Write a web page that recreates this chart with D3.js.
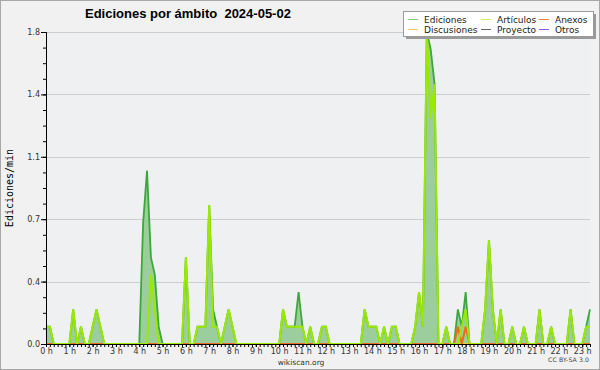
<!DOCTYPE html>
<html><head><meta charset="utf-8">
<script src="https://cdn.jsdelivr.net/npm/d3@7"></script>
<style>body{margin:0;background:#fff}svg{display:block}</style>
</head><body>
<svg id="c" width="600" height="370"></svg>
<script>
// ---- data (10-minute steps, 0:00 .. 23:20), edits per minute ----
const title = "Ediciones por ámbito  2024-05-02";
const yLabel = "Ediciones/min";
const hourLabels = d3.range(24).map(h => h + " h");
const yTickValues = [0, 0.36, 0.72, 1.08, 1.44, 1.8];
const seriesNames = ["Ediciones", "Artículos", "Anexos", "Discusiones", "Proyecto", "Otros"];
const seriesColors = ["#3aa83a", "#9be800", "#ee6a22", "#f0c830", "#555555", "#9a3fe8"];
const legendColors = ["#80cc80", "#c8f060", "#ee8050", "#f0d060", "#666666", "#9a55ee"];

const ediciones = [
  0.1,0.1,0,0,0,0,   0,0.2,0,0.1,0,0,   0.1,0.2,0.1,0,0,0,   0,0,0,0,0,0,
  0,0.7,1.0,0.5,0.4,0.1,   0,0,0,0,0,0,   0.5,0,0,0.1,0.1,0.1,   0.8,0.2,0.1,0,0.1,0.2,
  0.1,0,0,0,0,0,   0,0,0,0,0,0,   0,0.2,0.1,0.1,0.1,0.3,   0.1,0,0.1,0,0,0.1,
  0.1,0,0,0,0,0,   0,0,0,0,0.2,0.1,   0.1,0.1,0,0.1,0,0.1,   0.1,0,0,0,0,0.1,
  0.3,0.1,1.8,1.7,1.5,0,   0,0.1,0,0,0.2,0.1,   0.3,0,0,0,0,0.2,   0.6,0.2,0,0.2,0,0,
  0.1,0,0,0.1,0,0,   0,0.2,0,0,0.1,0,   0,0,0,0.2,0,0,   0,0.1,0.2
];
const articulos = [
  0.1,0.1,0,0,0,0,   0,0.2,0,0.1,0,0,   0.1,0.2,0.1,0,0,0,   0,0,0,0,0,0,
  0,0,0,0.4,0.2,0,   0,0,0,0,0,0,   0.5,0,0,0.1,0.1,0.1,   0.8,0.1,0.1,0,0.1,0.2,
  0.1,0,0,0,0,0,   0,0,0,0,0,0,   0,0.2,0.1,0.1,0.1,0.1,   0.1,0,0.1,0,0,0.1,
  0.1,0,0,0,0,0,   0,0,0,0,0.2,0.1,   0.1,0.1,0,0.1,0,0.1,   0.1,0,0,0,0,0.1,
  0.3,0.1,1.8,1.3,1.5,0,   0,0.1,0,0,0,0.1,   0.2,0,0,0,0,0.2,   0.6,0.2,0,0.2,0,0,
  0.1,0,0,0.1,0,0,   0,0.2,0,0,0.1,0,   0,0,0,0.2,0,0,   0,0.1,0.1
];
const anexos = [
  0,0,0,0,0,0,   0,0,0,0,0,0,   0,0,0,0,0,0,   0,0,0,0,0,0,
  0,0,0,0,0,0,   0,0,0,0,0,0,   0,0,0,0,0,0,   0,0,0,0,0,0,
  0,0,0,0,0,0,   0,0,0,0,0,0,   0,0,0,0,0,0,   0,0,0,0,0,0,
  0,0,0,0,0,0,   0,0,0,0,0,0,   0,0,0,0,0,0,   0,0,0,0,0,0,
  0,0,0,0,0,0,   0,0,0,0,0.1,0,   0.1,0,0,0,0,0,   0,0,0,0,0,0,
  0,0,0,0,0,0,   0,0,0,0,0,0,   0,0,0,0,0,0,   0,0,0
];
const discusiones = ediciones.map(() => 0);
const proyecto = ediciones.map(() => 0);
const otros = ediciones.map(() => 0);
const seriesValues = [ediciones, articulos, anexos, discusiones, proyecto, otros];

// ---- chart ----
const svg = d3.select("#c");
const W = 600, H = 370;
const m = {left: 46, right: 590, top: 32, bottom: 344};
const n = ediciones.length;

svg.append("rect").attr("width", W).attr("height", H).attr("fill", "#f1f1f1");
svg.append("rect").attr("x", 0.5).attr("y", 0.5).attr("width", W - 1).attr("height", H - 1)
  .attr("fill", "none").attr("stroke", "#a8a8a8");

const x = d3.scaleLinear().domain([0, n - 1]).range([m.left, m.right]);
const y = d3.scaleLinear().domain([0, 1.8]).range([m.bottom, m.top]);

svg.append("rect").attr("x", m.left).attr("y", m.top)
  .attr("width", m.right - m.left).attr("height", m.bottom - m.top).attr("fill", "#eef0f2");

// grid
svg.append("g").selectAll("line").data(yTickValues.filter(d => d > 0)).join("line")
  .attr("x1", m.left).attr("x2", m.right)
  .attr("y1", d => Math.round(y(d)) + 0.5).attr("y2", d => Math.round(y(d)) + 0.5)
  .attr("stroke", "#cdcdcf").attr("stroke-width", 1);

// area
const idx = d3.range(n);
svg.append("path").datum(idx)
  .attr("d", d3.area().x(i => x(i)).y0(y(0)).y1(i => y(ediciones[i])))
  .attr("fill", "#9ccd9c");

const line = vals => d3.line().x(i => x(i)).y(i => y(vals[i]))(idx);
// draw order: others first, Ediciones, Anexos, Artículos on top
const order = [5, 4, 3, 0, 2, 1];
order.forEach(k => {
  svg.append("path").attr("d", line(seriesValues[k]))
    .attr("fill", "none").attr("stroke", seriesColors[k])
    .attr("stroke-width", k === 0 ? 1.8 : 2).attr("stroke-linejoin", "miter");
});

// axes
const fmt = d3.format(".1f");
svg.append("g").attr("transform", `translate(${m.left},0)`)
  .call(d3.axisLeft(y).tickValues(yTickValues).tickSize(5).tickPadding(1).tickFormat(fmt));
svg.append("g").attr("transform", `translate(${m.left},0)`)
  .call(d3.axisLeft(y).tickValues(d3.range(0, 21).map(i => i * 0.09)).tickSize(3).tickFormat(""));
svg.append("g").attr("transform", `translate(0,${m.bottom})`)
  .call(d3.axisBottom(x).tickValues(d3.range(0, n, 6)).tickSize(3).tickPadding(1)
    .tickFormat(i => hourLabels[i / 6]));
svg.append("g").attr("transform", `translate(0,${m.bottom})`)
  .call(d3.axisBottom(x).tickValues(idx).tickSize(3).tickFormat(""));
svg.selectAll(".domain").attr("stroke", "#000");
svg.selectAll(".tick line").attr("stroke", "#000");
svg.selectAll(".tick text").attr("font-family", "DejaVu Sans").attr("font-size", 8).attr("fill", "#333");

// title
svg.append("text").attr("x", 85).attr("y", 18).style("white-space", "pre").text(title)
  .attr("font-family", "Liberation Sans").attr("font-weight", "bold").attr("font-size", 13).attr("fill", "#000");

// y label
svg.append("text").attr("transform", "translate(13,188) rotate(-90)").attr("text-anchor", "middle")
  .text(yLabel).attr("font-family", "DejaVu Sans Mono").attr("font-size", 10).attr("fill", "#000");

// footer
svg.append("text").attr("x", 301).attr("y", 365).attr("text-anchor", "middle").text("wikiscan.org")
  .attr("font-family", "DejaVu Sans").attr("font-size", 7.5).attr("fill", "#333");
svg.append("text").attr("x", 548).attr("y", 362).text("CC BY-SA 3.0")
  .attr("textLength", 41).attr("lengthAdjust", "spacing")
  .attr("font-family", "DejaVu Sans").attr("font-size", 6.2).attr("fill", "#444");

// legend
const lg = svg.append("g");
lg.append("rect").attr("x", 406).attr("y", 14).attr("width", 190).attr("height", 25).attr("fill", "#9a9a9a");
lg.append("rect").attr("x", 403.5).attr("y", 11.5).attr("width", 190).attr("height", 25)
  .attr("fill", "#fff").attr("stroke", "#9a9a9a");
const colX = [408, 481, 539];
const rowY = [19.5, 29.5];
const legendPos = [[0,0],[1,0],[2,0],[0,1],[1,1],[2,1]];
seriesNames.forEach((name, k) => {
  const [c, r] = legendPos[k];
  lg.append("line").attr("x1", colX[c]).attr("x2", colX[c] + 10)
    .attr("y1", rowY[r]).attr("y2", rowY[r]).attr("stroke", legendColors[k]).attr("stroke-width", 1);
  lg.append("text").attr("x", colX[c] + 16).attr("y", rowY[r] + 3).text(name)
    .attr("font-family", "DejaVu Sans").attr("font-size", 9).attr("fill", "#222");
});
</script>
</body></html>
